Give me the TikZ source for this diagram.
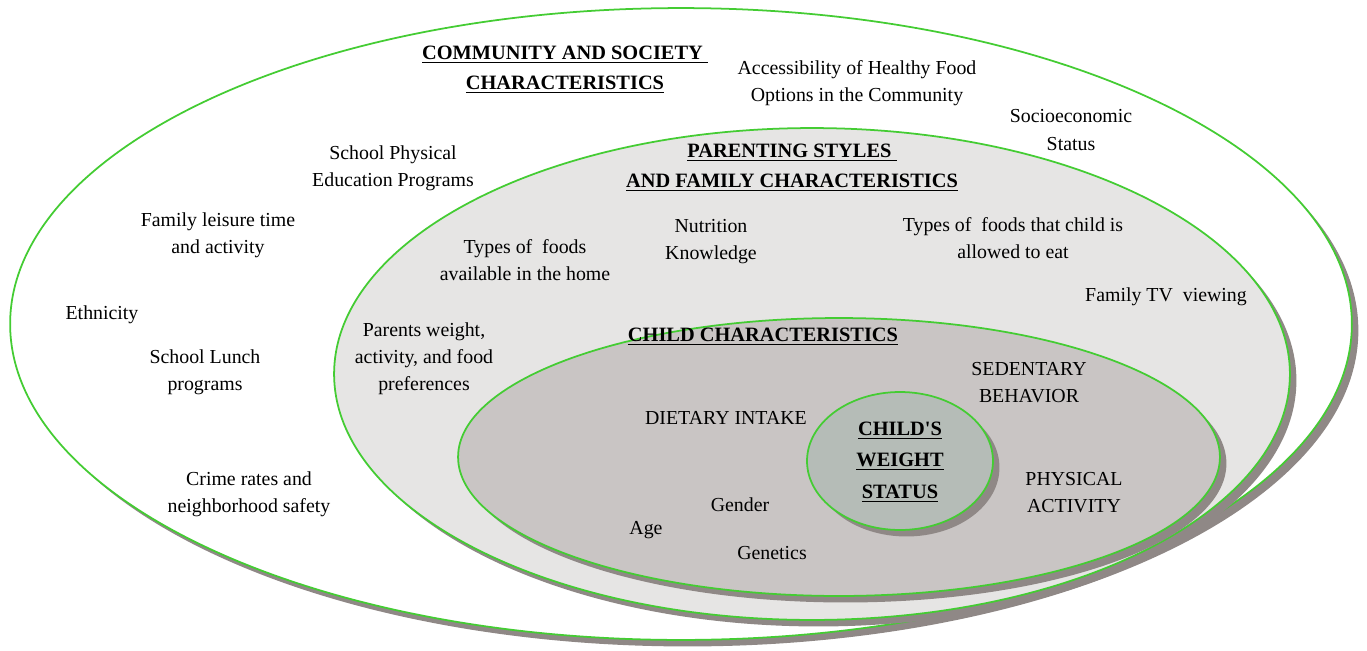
\documentclass[tikz,border=0pt]{standalone}
\usepackage{fontspec}
\setmainfont{Liberation Serif}
\usetikzlibrary{shapes.geometric, shadows}

\definecolor{ringgreen}{HTML}{44CC33}
\definecolor{shadowgray}{HTML}{8F8886}
\definecolor{familygray}{HTML}{E6E5E4}
\definecolor{childgray}{HTML}{C9C5C4}
\definecolor{coregray}{HTML}{B5BCB7}

\newcommand{\hdline}[1]{\underline{#1}}

\begin{document}
\begin{tikzpicture}[
    x=0.02cm, y=-0.02cm,
    ring/.style={ellipse, draw=ringgreen, line width=1pt, inner sep=0pt,
        drop shadow={shadow xshift=0.13cm, shadow yshift=-0.13cm, fill=shadowgray, opacity=1}},
    lbl/.style={align=center, inner sep=1pt, font=\fontsize{11.3}{15.4}\selectfont},
    hdr/.style={align=center, inner sep=1pt, font=\fontsize{11.6}{17}\selectfont\bfseries}
]
\useasboundingbox (0,0) rectangle (1367,650);

% nested levels
\node[ring, fill=white, minimum width=26.84cm, minimum height=12.64cm] (community) at (681,324) {};
\node[ring, fill=familygray, minimum width=19.12cm, minimum height=9.84cm] (family) at (812,374) {};
\node[ring, fill=childgray, minimum width=15.24cm, minimum height=5.56cm] (child) at (839,457) {};
\node[ring, fill=coregray, minimum width=3.72cm, minimum height=2.76cm] (core) at (900,461) {};

% community and society
\node[hdr] (comm_title) at (565,70) {\hdline{COMMUNITY AND SOCIETY }\\\hdline{CHARACTERISTICS}};
\node[lbl] (comm_food) at (857,83) {Accessibility of Healthy Food\\Options in the Community};
\node[lbl] (comm_ses) at (1071,130) {Socioeconomic\\Status};
\node[lbl] (comm_pe) at (393,168) {School Physical\\Education Programs};
\node[lbl] (comm_leisure) at (218,235) {Family leisure time\\and activity};
\node[lbl] (comm_eth) at (102,315) {Ethnicity};
\node[lbl] (comm_lunch) at (205,372) {School Lunch\\programs};
\node[lbl] (comm_crime) at (249,494) {Crime rates and\\neighborhood safety};

% parenting styles and family
\node[hdr] (fam_title) at (792,168) {\hdline{PARENTING STYLES }\\\hdline{AND FAMILY CHARACTERISTICS}};
\node[lbl] (fam_home) at (525,260) {Types of~ foods\\available in the home};
\node[lbl] (fam_know) at (711,242) {Nutrition\\Knowledge};
\node[lbl] (fam_allow) at (1013,238) {Types of~ foods that child is\\allowed to eat};
\node[lbl] (fam_tv) at (1166,297) {Family TV~ viewing};
\node[lbl] (fam_parents) at (424,359) {Parents weight,\\activity, and food\\preferences};

% child
\node[hdr] (child_title) at (763,337) {\hdline{CHILD CHARACTERISTICS}};
\node[lbl] (child_sed) at (1029,383) {SEDENTARY\\BEHAVIOR};
\node[lbl] (child_diet) at (726,418) {DIETARY INTAKE};
\node[lbl] (child_pa) at (1074,493) {PHYSICAL\\ACTIVITY};
\node[lbl] (child_gender) at (740,505) {Gender};
\node[lbl] (child_age) at (646,530) {Age};
\node[lbl] (child_gen) at (772,553) {Genetics};

% weight status
\node[hdr, font=\fontsize{11.6}{18}\selectfont\bfseries] (core_title) at (900,462) {\hdline{CHILD\textquotesingle S}\\\hdline{WEIGHT}\\\hdline{STATUS}};

\end{tikzpicture}
\end{document}
